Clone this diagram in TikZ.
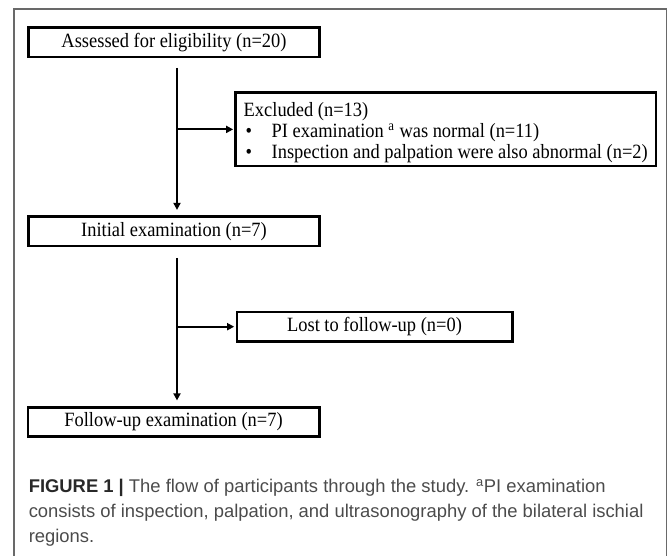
\documentclass[tikz,border=0pt]{standalone}
\usepackage{fontspec}
\setmainfont{Liberation Serif}[FakeStretch=0.91]
\newfontfamily\captionfont{Liberation Sans}
\usepackage{xcolor}
\definecolor{framegray}{RGB}{105,105,105}
\definecolor{captiondark}{RGB}{40,40,40}
\definecolor{captiongray}{RGB}{75,75,75}
\usetikzlibrary{arrows.meta}
\newcommand{\ListBullet}{\makebox[21pt][l]{\hspace{1.5pt}\textbullet}}

\begin{document}
\begin{tikzpicture}[
  x=0.75pt, y=0.75pt,
  font=\fontsize{15.2pt}{15.9pt}\selectfont,
  % --- chart style: edit visual look here -----------------------------
  stagebox/.style={draw=black, line width=1.9pt, inner sep=0pt,
                   minimum width=218.6pt, minimum height=22.1pt},
  sidebox/.style={draw=black, line width=1.9pt, inner sep=0pt,
                  minimum height=22.1pt},
  flow/.style={black, line width=1.5pt, -{Triangle[length=5.25pt,width=5.25pt]}},
  capline/.style={anchor=base west, inner sep=0pt, text=captiongray,
                  font=\captionfont\fontsize{13.8pt}{18.75pt}\selectfont},
  panel/.style={framegray, line width=0.9pt},
  % ---------------------------------------------------------------------
]
  \useasboundingbox (0,0) rectangle (669,-556);

  % panel frame (open at the bottom)
  \draw[panel] (14,-556) -- (14,-9) -- (666.7,-9) -- (666.7,-556);

  % main stages
  \node[stagebox] (assess)   at (174,-42.5)  {Assessed for eligibility (n=20)};
  \node[stagebox] (initial)  at (174,-231.5) {Initial examination (n=7)};
  \node[stagebox] (followup) at (173.5,-422) {Follow-up examination (n=7)};

  % side boxes
  \node[sidebox, minimum width=313.5pt, minimum height=55pt, inner xsep=6pt,
        align=left] (excluded) at (445.75,-129.4)
    {\rule{0pt}{15pt}Excluded (n=13)\\
     \ListBullet PI examination \textsuperscript{a} was normal (n=11)\\
     \ListBullet Inspection and palpation were also abnormal (n=2)};
  \node[sidebox, minimum width=206.6pt] (lost) at (374.5,-326.7) {Lost to follow-up (n=0)};

  % connectors
  \coordinate (split1) at (177,-68);
  \coordinate (split2) at (177,-258);
  \draw[flow, shorten >=4.2pt] (split1) -- (split1 |- initial.north);
  \draw[flow, shorten >=1pt] (split1 |- excluded.west) -- (excluded.west);
  \draw[flow, shorten >=4.2pt] (split2) -- (split2 |- followup.north);
  \draw[flow, shorten >=1pt] (split2 |- lost.west) -- (lost.west);

  % caption
  \node[capline] (cap1) at (28.5,-493)
    {{\bfseries\color{captiondark}FIGURE 1 |} The flow of participants through the study. \textsuperscript{a}PI examination};
  \node[capline] (cap2) at (28.5,-518)
    {consists of inspection, palpation, and ultrasonography of the bilateral ischial};
  \node[capline] (cap3) at (28.5,-543) {regions.};
\end{tikzpicture}
\end{document}
